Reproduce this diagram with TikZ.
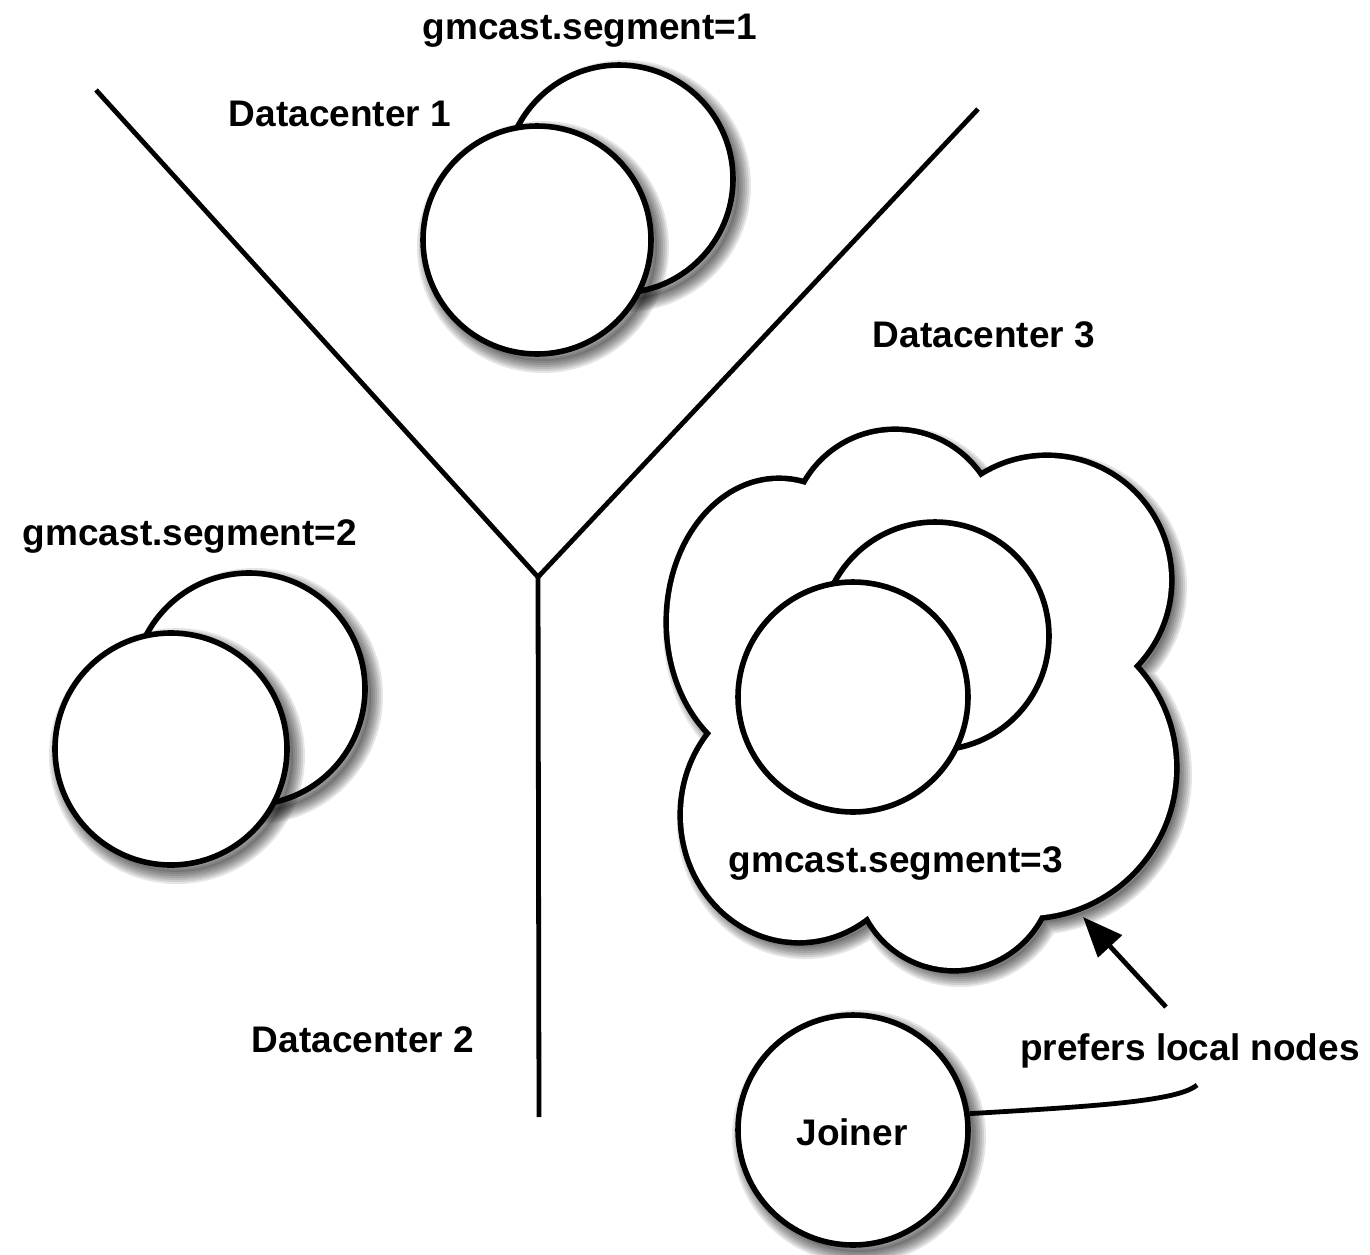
\documentclass[tikz,border=0pt]{standalone}
\usepackage{fontspec}
\setmainfont{Liberation Sans}
\usetikzlibrary{arrows.meta}

% lobes whose union forms the datacenter-3 cloud
\newcommand\cloudlobes{%
  (895,534) circle[radius=102]
  (1047,580) circle[radius=122]
  (1026,768) circle[radius=148]
  (954,871) circle[radius=97]
  (799,815) ellipse[x radius=116,y radius=125]
  (779,622) ellipse[x radius=110,y radius=141]}
\newcommand\cloudcore{(920,700) circle[radius=140]}

\begin{document}
\begin{tikzpicture}[x=0.5pt,y=-0.5pt,
  caption/.style={font=\bfseries\fontsize{18.5}{22}\selectfont, anchor=base, inner sep=0pt},
  shadowlayer/.style={preaction={draw=black, draw opacity=0.1, line width=#1,
      transform canvas={xshift=3pt, yshift=-3.5pt}}},
  % soft drop shadow built from stacked translucent strokes
  softshadow/.style={
    preaction={fill=black, fill opacity=0.12, transform canvas={xshift=3pt, yshift=-3.5pt}},
    shadowlayer=2pt, shadowlayer=4pt, shadowlayer=6pt,
    shadowlayer=8pt, shadowlayer=10pt, shadowlayer=12pt},
  member/.style={circle, draw, line width=2.8pt, fill=white, inner sep=0pt},
  wire/.style={line width=2.4pt}]

\useasboundingbox (0,0) rectangle (1370,1254);

% the three-way split between datacenters
\coordinate (ytopleft) at (96,90);
\coordinate (ytopright) at (978,109);
\coordinate (yfork) at (538,577);
\coordinate (ybottom) at (539,1117);
\draw[wire, line join=miter] (ytopleft) -- (yfork) -- (ytopright);
\draw[wire] (yfork) -- (ybottom);

% datacenter 1
\node[member, softshadow, minimum size=114pt] (dconeback) at (619,179) {};
\node[member, softshadow, minimum size=114pt] (dconefront) at (537,240) {};

% datacenter 2
\node[member, softshadow, minimum size=116pt] (dctwoback) at (249,689) {};
\node[member, softshadow, minimum size=116pt] (dctwofront) at (171,749) {};

% datacenter 3 cloud: thick outline, then white fill leaves the outer edge
\draw[line width=5.6pt, softshadow] \cloudlobes;
\fill[white] \cloudlobes \cloudcore;

\node[member, minimum size=114pt] (dcthreeback) at (935,636) {};
\node[member, minimum size=115pt] (dcthreefront) at (853,697) {};

% joining node
\node[member, softshadow, minimum size=115pt] (joiner) at (853,1130) {};
\node[caption] (joinertext) at (852,1145) {Joiner};

% pointer to the local segment
\coordinate (arrowtail) at (1166,1007);
\coordinate (arrowtip) at (1083,917);
\draw[wire, -{Triangle[length=20pt,width=16pt,fill=black]}] (arrowtail) -- (arrowtip);

\coordinate (bend) at (1197,1085);
\draw[wire] (joiner.8) .. controls (1100,1106) and (1178,1101) .. (bend);

% captions
\node[caption] (segone) at (590,39) {gmcast.segment=1};
\node[caption] (dcone) at (340,126) {Datacenter 1};
\node[caption] (dcthree) at (984,347) {Datacenter 3};
\node[caption] (segtwo) at (190,545) {gmcast.segment=2};
\node[caption] (segthree) at (896,872) {gmcast.segment=3};
\node[caption] (dctwo) at (363,1052) {Datacenter 2};
\node[caption] (prefers) at (1190,1060) {prefers local nodes};
\end{tikzpicture}
\end{document}
